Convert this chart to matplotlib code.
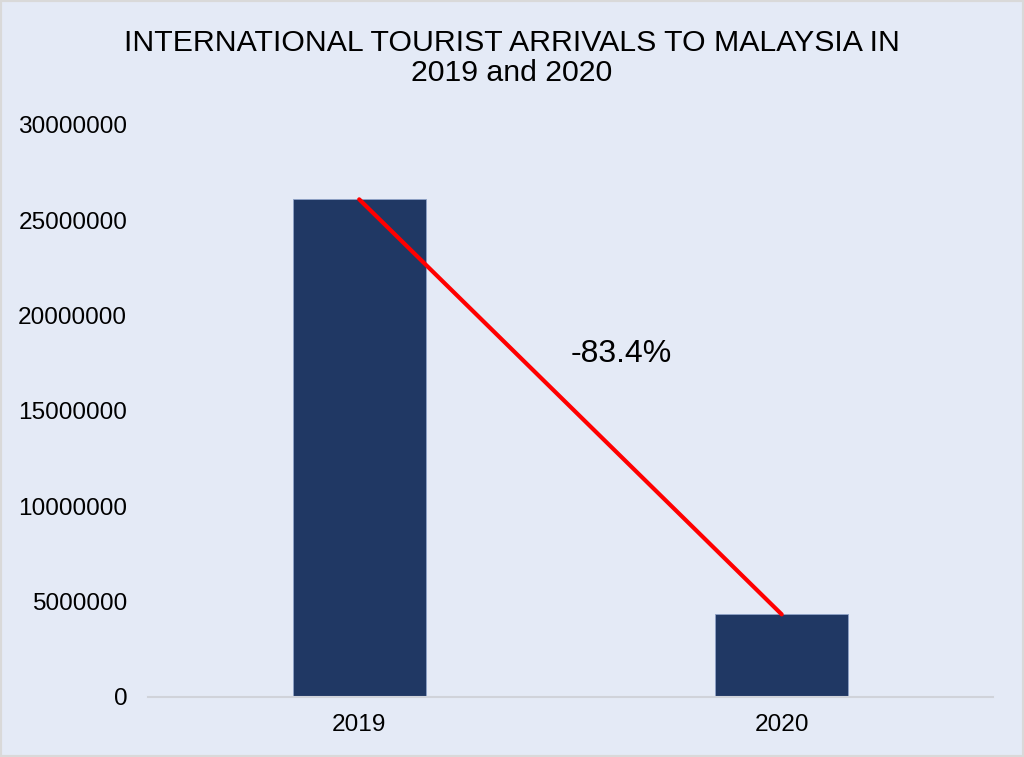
import matplotlib.pyplot as plt

years = ['2019', '2020']
arrivals = [26100000, 4330000]
change_label = '-83.4%'

plt.rcParams['font.family'] = ['Liberation Sans', 'DejaVu Sans']

bg = '#E4EAF6'
fig = plt.figure(figsize=(10.24, 7.57), dpi=100, facecolor=bg)
ax = fig.add_axes([0.1445, 0.0793, 0.8252, 0.7556])
ax.set_facecolor(bg)

x = range(len(years))
ax.bar(x, arrivals, width=0.315, color='#203864', edgecolor='#8FA3C8', linewidth=0.6, zorder=2)
ax.plot(x, arrivals, color='#FF0000', linewidth=3, solid_capstyle='round', zorder=3)
ax.text(0.62, 18000000, change_label, fontsize=23, ha='center', va='center')

ax.set_xlim(-0.5, 1.5)
ax.set_ylim(0, 30000000)
ax.set_xticks(list(x))
ax.set_xticklabels(years)
ax.set_yticks(range(0, 30000001, 5000000))
ax.set_yticklabels([str(v) for v in range(0, 30000001, 5000000)])
ax.tick_params(axis='both', length=0, labelsize=17.6)
ax.tick_params(axis='x', pad=12)
ax.tick_params(axis='y', pad=15)
for s in ['top', 'right', 'left']:
    ax.spines[s].set_visible(False)
ax.spines['bottom'].set_color('#D0D3DA')
ax.spines['bottom'].set_linewidth(1.5)

fig.text(0.5, 0.923, 'INTERNATIONAL TOURIST ARRIVALS TO MALAYSIA IN\n2019 and 2020',
         ha='center', va='center', fontsize=21.8, linespacing=1.1)

fig.patches.append(plt.Rectangle((0, 0), 1, 1, transform=fig.transFigure,
                                 fill=False, edgecolor='#D9D9D9', linewidth=3))

plt.savefig('out.png', dpi=100, facecolor=bg)
